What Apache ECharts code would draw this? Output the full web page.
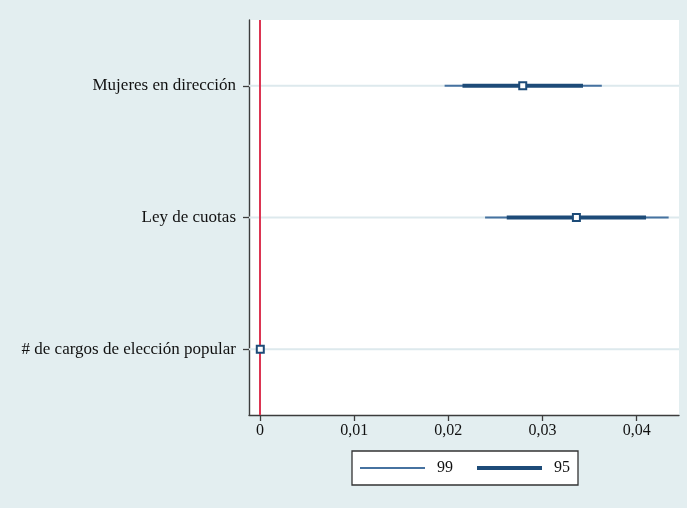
<!DOCTYPE html>
<html><head><meta charset="utf-8">
<script src="https://cdn.jsdelivr.net/npm/echarts@6/dist/echarts.min.js"></script>
<style>html,body{margin:0;padding:0;background:#fff}#c{width:687px;height:508px}</style>
</head><body><div id="c"></div>
<script>
const categories = ['Mujeres en dirección', 'Ley de cuotas', '# de cargos de elección popular'];
const estimates = [0.0279, 0.0336, 0.00002];
const ci99Low = [0.0196, 0.0239, 0.0];
const ci99High = [0.0363, 0.0434, 0.00004];
const ci95Low = [0.0215, 0.0262, 0.00001];
const ci95High = [0.0343, 0.0410, 0.00003];
const xTicks = [0, 0.01, 0.02, 0.03, 0.04];
const legendNames = ['99', '95'];

const xMin = -0.00118, xMax = 0.0445;
const c99 = '#4672a0', c95 = '#1d4b78';
const serif = '"Liberation Serif", "DejaVu Serif", serif';

function ciLines(name, lo, hi, color, width, z) {
  return categories.map((c, i) => ({
    name: name, type: 'line', z: z, symbol: 'none', silent: true,
    itemStyle: { color: color },
    lineStyle: { color: color, width: width, cap: 'butt' },
    data: [[lo[i], c], [hi[i], c]]
  }));
}
const gridLines = categories.map(c => ({
  type: 'line', z: 1, symbol: 'none', silent: true,
  lineStyle: { color: '#dde9ed', width: 2 },
  data: [[xMin, c], [xMax, c]]
}));

const chart = echarts.init(document.getElementById('c'));
chart.setOption({
  animation: false,
  backgroundColor: '#e3eef0',
  grid: { left: 249, right: 8, top: 20, bottom: 93, show: true, backgroundColor: '#ffffff', borderWidth: 0 },
  xAxis: {
    type: 'value', min: xMin, max: xMax,
    axisLine: { show: true, onZero: false, lineStyle: { color: '#3c3c3c', width: 1.4 } },
    axisTick: { show: true, length: 6, customValues: xTicks, lineStyle: { color: '#3c3c3c', width: 1.3 } },
    axisLabel: { customValues: xTicks, margin: 8, color: '#111111', fontFamily: serif, fontSize: 16,
      formatter: v => String(+v.toFixed(4)).replace('.', ',') },
    splitLine: { show: false }
  },
  yAxis: {
    type: 'category', data: categories, inverse: true, boundaryGap: true,
    axisLine: { show: true, onZero: false, lineStyle: { color: '#3c3c3c', width: 1.4 } },
    axisTick: { show: true, alignWithLabel: true, length: 6, lineStyle: { color: '#3c3c3c', width: 1.3 } },
    axisLabel: { margin: 13, color: '#111111', fontFamily: serif, fontSize: 17 },
    splitLine: { show: false }
  },
  legend: {
    left: 352, top: 451,
    data: [{ name: legendNames[0], icon: 'path://M0,0H65V2H0Z' }, { name: legendNames[1], icon: 'path://M0,0H65V4H0Z' }],
    itemWidth: 65, itemHeight: 15, itemGap: 24,
    padding: [9, 8, 9, 8],
    backgroundColor: '#ffffff', borderColor: '#333333', borderWidth: 1.3, borderRadius: 0,
    itemStyle: { borderWidth: 0 },
    textStyle: { fontFamily: serif, fontSize: 16, color: '#111111', padding: [0, 0, 0, 7] },
    selectedMode: false
  },
  series: [].concat(
    gridLines,
    ciLines(legendNames[0], ci99Low, ci99High, c99, 2, 3),
    ciLines(legendNames[1], ci95Low, ci95High, c95, 4, 4),
    [{
      type: 'scatter', z: 6, symbol: 'rect', symbolSize: 7, silent: true,
      itemStyle: { color: '#ffffff', borderColor: c95, borderWidth: 2, opacity: 1 },
      data: categories.map((c, i) => [estimates[i], c]),
      markLine: { silent: true, z: 2, symbol: 'none', label: { show: false },
        lineStyle: { color: '#dc3552', width: 2, type: 'solid' },
        data: [{ xAxis: 0 }] }
    }]
  )
});
</script></body></html>
